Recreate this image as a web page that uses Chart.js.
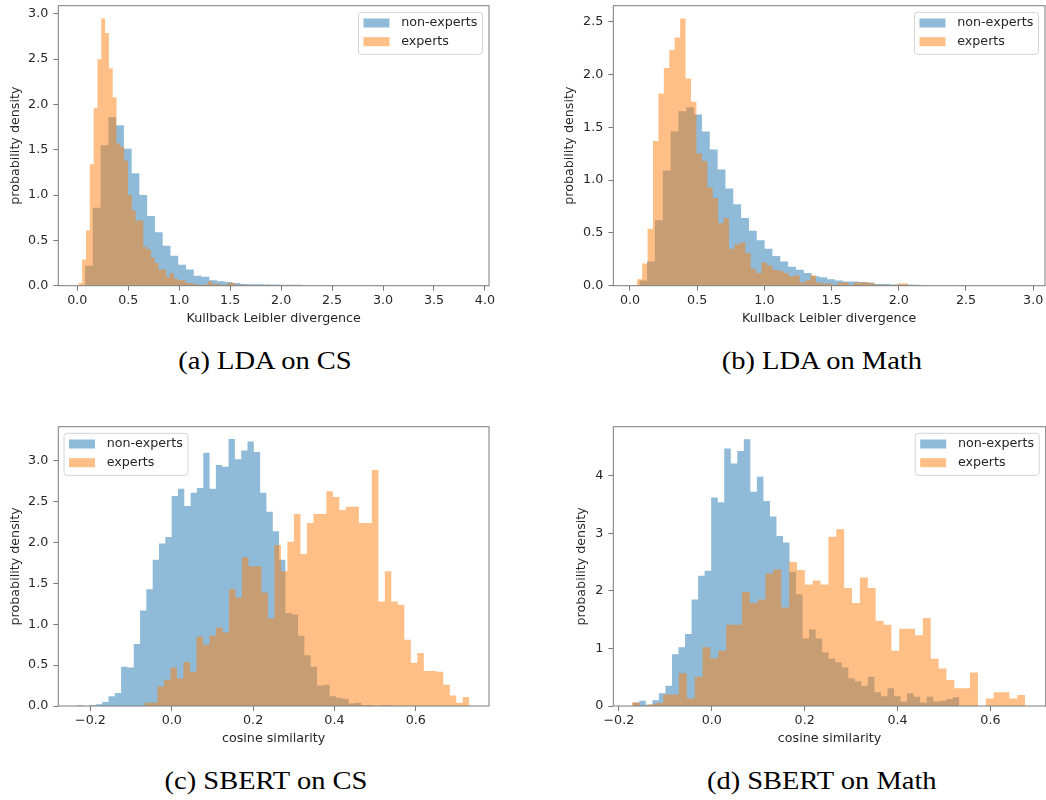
<!DOCTYPE html>
<html>
<head>
<meta charset="utf-8">
<title>Divergence and similarity histograms</title>
<script src="https://cdn.jsdelivr.net/npm/chart.js@4.4.1/dist/chart.umd.min.js"></script>
<style>
  body { margin: 0; background: #fff; width: 1046px; height: 800px; position: relative; overflow: hidden; }
  canvas { position: absolute; }
  .cap { position: absolute; width: 400px; text-align: center; font-family: "Liberation Serif", serif; font-size: 25px; line-height: 30px; color: #000; }
  .cap span { display: inline-block; transform: scaleX(1.14); }
</style>
</head>
<body>
<canvas id="ldaCs" width="520" height="328" style="left:0;top:0;width:520px;height:328px"></canvas>
<canvas id="ldaMath" width="493" height="328" style="left:553px;top:0;width:493px;height:328px"></canvas>
<canvas id="sbertCs" width="520" height="328" style="left:0;top:420px;width:520px;height:328px"></canvas>
<canvas id="sbertMath" width="493" height="328" style="left:553px;top:420px;width:493px;height:328px"></canvas>
<div class="cap" style="left:65px;top:346px"><span>(a) LDA on CS</span></div>
<div class="cap" style="left:622px;top:346px"><span>(b) LDA on Math</span></div>
<div class="cap" style="left:66px;top:766px"><span>(c) SBERT on CS</span></div>
<div class="cap" style="left:622px;top:766px"><span>(d) SBERT on Math</span></div>
<script>
const seriesLabels = ['non-experts', 'experts'];

// (a) LDA on CS, Kullback Leibler divergence
const ldaCsNonExpertsStart = 0.076, ldaCsNonExpertsWidth = 0.0762;
const ldaCsNonExperts = [0.22, 0.86, 1.55, 1.86, 1.77, 1.51, 1.24, 1.00, 0.77, 0.59, 0.44, 0.33, 0.23, 0.18,
  0.11, 0.10, 0.06, 0.05, 0.04, 0.03, 0.02, 0.015, 0.015, 0.012, 0.012, 0.01, 0.01, 0.01];
const ldaCsExpertsStart = 0.01, ldaCsExpertsWidth = 0.0375;
const ldaCsExperts = [0.03, 0.29, 0.61, 1.34, 1.96, 2.50, 2.95, 2.79, 2.40, 2.08, 1.57, 1.53, 1.38, 1.00,
  0.83, 0.72, 0.72, 0.43, 0.40, 0.31, 0.25, 0.18, 0.18, 0.10, 0.14, 0.08, 0.06, 0.06, 0.03, 0.03,
  0.02, 0.01, 0.01, 0.02, 0.05, 0.02, 0.02, 0.01, 0.01, 0.03, 0.03, 0.01, 0.01, 0.01, 0.0, 0.01,
  0.0, 0.0, 0.0, 0.01];
const ldaCsXTicks = [0, 0.5, 1, 1.5, 2, 2.5, 3, 3.5, 4];
const ldaCsYTicks = [0, 0.5, 1, 1.5, 2, 2.5, 3];

// (b) LDA on Math, Kullback Leibler divergence
const ldaMathNonExpertsStart = 0.069, ldaMathNonExpertsWidth = 0.0583;
const ldaMathNonExperts = [0.05, 0.23, 0.62, 1.09, 1.46, 1.65, 1.69, 1.62, 1.46, 1.29, 1.10, 0.92, 0.77, 0.64,
  0.52, 0.43, 0.35, 0.28, 0.23, 0.18, 0.15, 0.12, 0.09, 0.08, 0.06, 0.05, 0.04, 0.04, 0.035, 0.03,
  0.015, 0.015, 0.012, 0.012, 0.012, 0.01];
const ldaMathExpertsStart = 0.05, ldaMathExpertsWidth = 0.0404;
const ldaMathExperts = [0.06, 0.21, 0.54, 1.37, 1.82, 2.06, 2.23, 2.35, 2.53, 1.96, 1.74, 1.25, 1.18, 0.93,
  0.83, 0.59, 0.64, 0.35, 0.39, 0.41, 0.31, 0.16, 0.12, 0.22, 0.19, 0.15, 0.14, 0.12, 0.09, 0.10,
  0.03, 0.05, 0.10, 0.03, 0.02, 0.02, 0.01, 0.03, 0.03, 0.01, 0.03, 0.03, 0.03, 0.02, 0.01, 0.01,
  0.0, 0.01, 0.02, 0.02];
const ldaMathXTicks = [0, 0.5, 1, 1.5, 2, 2.5, 3];
const ldaMathYTicks = [0, 0.5, 1, 1.5, 2, 2.5];

// (c) SBERT on CS, cosine similarity
const sbertCsNonExpertsStart = -0.2334, sbertCsNonExpertsWidth = 0.01554;
const sbertCsNonExperts = [0.01, 0.0, 0.01, 0.02, 0.05, 0.12, 0.16, 0.48, 0.47, 0.76, 1.17, 1.43, 1.79, 1.99,
  2.07, 2.57, 2.66, 2.45, 2.61, 2.67, 3.10, 2.66, 2.95, 2.93, 3.27, 3.02, 3.13, 3.24, 3.11, 2.61,
  2.38, 2.14, 1.79, 1.14, 1.12, 0.86, 0.62, 0.48, 0.25, 0.26, 0.12, 0.10, 0.09, 0.03, 0.04, 0.01,
  0.01, 0.0, 0.01, 0.01];
const sbertCsExpertsStart = -0.067, sbertCsExpertsWidth = 0.01597;
const sbertCsExperts = [0.04, 0.04, 0.24, 0.32, 0.47, 0.34, 0.54, 0.42, 0.85, 0.75, 0.86, 0.96, 0.90, 1.43,
  1.33, 1.82, 1.71, 1.71, 1.39, 1.07, 1.97, 1.65, 2.01, 2.35, 1.86, 2.24, 2.35, 2.35, 2.63, 2.56,
  2.40, 2.44, 2.44, 2.24, 2.24, 2.89, 1.28, 1.65, 1.28, 1.24, 0.81, 0.53, 0.65, 0.43, 0.43, 0.42,
  0.26, 0.13, 0.04, 0.11];
const sbertCsXTicks = [-0.2, 0, 0.2, 0.4, 0.6];
const sbertCsYTicks = [0, 0.5, 1, 1.5, 2, 2.5, 3];

// (d) SBERT on Math, cosine similarity
const sbertMathNonExpertsStart = -0.170, sbertMathNonExpertsWidth = 0.01406;
const sbertMathNonExperts = [0.06, 0.09, 0.02, 0.10, 0.22, 0.35, 0.90, 1.02, 1.25, 1.85, 2.26, 2.35, 3.62, 3.54,
  4.47, 4.21, 4.43, 4.63, 3.72, 3.98, 3.56, 3.29, 2.95, 2.84, 2.33, 1.94, 1.17, 1.33, 1.17, 0.93,
  0.82, 0.76, 0.67, 0.48, 0.43, 0.35, 0.51, 0.24, 0.17, 0.31, 0.17, 0.08, 0.22, 0.16, 0.06, 0.16,
  0.08, 0.09, 0.12, 0.15];
const sbertMathExpertsStart = -0.1723, sbertMathExpertsWidth = 0.01694;
const sbertMathExperts = [0.06, 0.0, 0.03, 0.05, 0.20, 0.20, 0.57, 0.13, 0.51, 1.02, 0.83, 0.96, 1.41, 1.41,
  1.98, 1.79, 1.85, 2.30, 2.37, 1.71, 2.50, 2.36, 2.11, 2.18, 2.11, 2.94, 3.07, 2.05, 1.79, 2.23,
  2.05, 1.48, 1.41, 0.96, 1.34, 1.34, 1.23, 1.53, 0.82, 0.65, 0.45, 0.31, 0.31, 0.58, 0.0, 0.13,
  0.24, 0.24, 0.13, 0.19];
const sbertMathXTicks = [-0.2, 0, 0.2, 0.4, 0.6];
const sbertMathYTicks = [0, 1, 2, 3, 4];

const blue = 'rgba(31, 119, 180, 0.5)';
const orange = 'rgba(255, 127, 14, 0.5)';
const textColor = '#262626';
const lineColor = '#7a7a7a';

Chart.defaults.font.family = 'DejaVu Sans';
Chart.defaults.font.size = 12.7;
Chart.defaults.color = textColor;

// one point per bin left edge, plus the closing right edge
function histPoints(start, width, values) {
  const pts = values.map((v, i) => ({ x: start + i * width, y: v }));
  pts.push({ x: start + values.length * width, y: values[values.length - 1] });
  return pts;
}

function fmt(decimals) {
  return (v) => (v < 0 ? '\u2212' : '') + Math.abs(v).toFixed(decimals);
}

const framePlugin = {
  id: 'frame',
  afterDraw(chart) {
    const { ctx, chartArea: a } = chart;
    ctx.save();
    ctx.strokeStyle = lineColor;
    ctx.lineWidth = 1;
    ctx.strokeRect(a.left, a.top, a.right - a.left, a.bottom - a.top);
    ctx.restore();
  }
};

const boxLegend = {
  id: 'boxLegend',
  afterDraw(chart, args, opts) {
    const { ctx, chartArea: a } = chart;
    const w = 124, h = 42;
    const x = opts.side === 'left' ? a.left + 5.7 : a.right - 6.5 - w;
    const y = a.top + 6.6;
    ctx.save();
    ctx.beginPath();
    ctx.roundRect(x, y, w, h, 3);
    ctx.fillStyle = 'rgba(255,255,255,0.8)';
    ctx.fill();
    ctx.strokeStyle = '#d4d4d4';
    ctx.lineWidth = 1;
    ctx.stroke();
    ctx.font = '12.7px "DejaVu Sans"';
    ctx.textBaseline = 'middle';
    chart.data.datasets.forEach((ds, i) => {
      const cy = y + 10.7 + i * 18.7;
      ctx.fillStyle = 'white';
      ctx.fillRect(x + 5, cy - 4.5, 26, 9);
      ctx.fillStyle = ds.backgroundColor;
      ctx.fillRect(x + 5, cy - 4.5, 26, 9);
      ctx.fillStyle = textColor;
      ctx.fillText(ds.label, x + 42.7, cy);
    });
    ctx.restore();
  }
};

function makePanel(id, p) {
  const set = (label, data, color, order) => ({
    label, data, order,
    stepped: true,
    fill: 'origin',
    backgroundColor: color,
    borderColor: 'rgba(0,0,0,0)',
    borderWidth: 0,
    pointRadius: 0
  });
  return new Chart(document.getElementById(id), {
    type: 'line',
    data: {
      datasets: [
        set(seriesLabels[0], histPoints(p.blueStart, p.blueWidth, p.blue), blue, 2),
        set(seriesLabels[1], histPoints(p.orangeStart, p.orangeWidth, p.orange), orange, 1)
      ]
    },
    options: {
      responsive: false,
      animation: false,
      events: [],
      layout: { padding: { top: p.padTop, right: p.padRight, left: 0, bottom: 0 } },
      plugins: {
        legend: { display: false },
        tooltip: { enabled: false },
        boxLegend: { side: p.legendSide }
      },
      scales: {
        x: {
          type: 'linear',
          min: p.xMin,
          max: p.xMax,
          afterBuildTicks: (axis) => { axis.ticks = p.xTicks.map((v) => ({ value: v })); },
          afterFit: (axis) => { axis.height = p.xAxisHeight; axis.paddingLeft = 0; axis.paddingRight = 0; },
          ticks: { callback: fmt(1), autoSkip: false, maxRotation: 0, padding: 2, color: textColor },
          grid: { drawOnChartArea: false, drawTicks: true, tickLength: 5, color: lineColor },
          border: { display: false },
          title: { display: true, text: p.xTitle, color: textColor, padding: { top: 0, bottom: p.xTitlePad } }
        },
        y: {
          type: 'linear',
          min: 0,
          max: p.yMax,
          afterBuildTicks: (axis) => { axis.ticks = p.yTicks.map((v) => ({ value: v })); },
          afterFit: (axis) => { axis.width = p.yAxisWidth; axis.paddingTop = 0; axis.paddingBottom = 0; },
          ticks: { callback: fmt(p.yDecimals), autoSkip: false, padding: 5, color: textColor },
          grid: { drawOnChartArea: false, drawTicks: true, tickLength: 5, color: lineColor },
          border: { display: false },
          title: { display: true, text: 'probability density', color: textColor, padding: { top: p.yTitlePad, bottom: 0 } }
        }
      }
    },
    plugins: [framePlugin, boxLegend]
  });
}

makePanel('ldaCs', {
  blueStart: ldaCsNonExpertsStart, blueWidth: ldaCsNonExpertsWidth, blue: ldaCsNonExperts,
  orangeStart: ldaCsExpertsStart, orangeWidth: ldaCsExpertsWidth, orange: ldaCsExperts,
  xMin: -0.1865, xMax: 4.04, yMax: 3.09, xTicks: ldaCsXTicks, yTicks: ldaCsYTicks, yDecimals: 1,
  xTitle: 'Kullback Leibler divergence', legendSide: 'right',
  padTop: 5.7, padRight: 31, yAxisWidth: 58.3, xAxisHeight: 42.3, xTitlePad: 2.1, yTitlePad: 8.1
});

makePanel('ldaMath', {
  blueStart: ldaMathNonExpertsStart, blueWidth: ldaMathNonExpertsWidth, blue: ldaMathNonExperts,
  orangeStart: ldaMathExpertsStart, orangeWidth: ldaMathExpertsWidth, orange: ldaMathExperts,
  xMin: -0.124, xMax: 3.088, yMax: 2.65, xTicks: ldaMathXTicks, yTicks: ldaMathYTicks, yDecimals: 1,
  xTitle: 'Kullback Leibler divergence', legendSide: 'right',
  padTop: 5.7, padRight: 1, yAxisWidth: 60.3, xAxisHeight: 42.3, xTitlePad: 2.1, yTitlePad: 9.4
});

makePanel('sbertCs', {
  blueStart: sbertCsNonExpertsStart, blueWidth: sbertCsNonExpertsWidth, blue: sbertCsNonExperts,
  orangeStart: sbertCsExpertsStart, orangeWidth: sbertCsExpertsWidth, orange: sbertCsExperts,
  xMin: -0.279, xMax: 0.780, yMax: 3.42, xTicks: sbertCsXTicks, yTicks: sbertCsYTicks, yDecimals: 1,
  xTitle: 'cosine similarity', legendSide: 'left',
  padTop: 6.7, padRight: 31, yAxisWidth: 58.3, xAxisHeight: 42, xTitlePad: 1.4, yTitlePad: 8.1
});

makePanel('sbertMath', {
  blueStart: sbertMathNonExpertsStart, blueWidth: sbertMathNonExpertsWidth, blue: sbertMathNonExperts,
  orangeStart: sbertMathExpertsStart, orangeWidth: sbertMathExpertsWidth, orange: sbertMathExperts,
  xMin: -0.212, xMax: 0.719, yMax: 4.85, xTicks: sbertMathXTicks, yTicks: sbertMathYTicks, yDecimals: 0,
  xTitle: 'cosine similarity', legendSide: 'right',
  padTop: 6.7, padRight: 0.3, yAxisWidth: 60.3, xAxisHeight: 42, xTitlePad: 1.4, yTitlePad: 21.4
});
</script>
</body>
</html>
